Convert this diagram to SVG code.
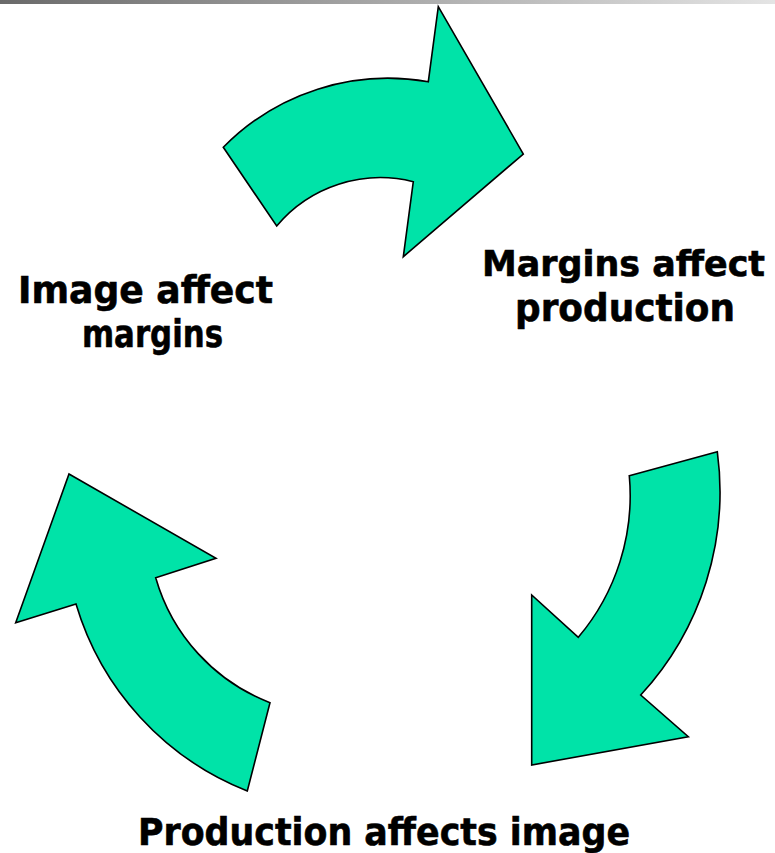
<svg xmlns="http://www.w3.org/2000/svg" width="775" height="853" viewBox="0 0 775 853">
  <defs>
    <linearGradient id="topbar" x1="0" y1="0" x2="1" y2="0">
      <stop offset="0" stop-color="#6a6a6a"/>
      <stop offset="0.5" stop-color="#a8a8a8"/>
      <stop offset="1" stop-color="#e4e4e4"/>
    </linearGradient>
  </defs>
  <style>
    .arrow { fill: #00E3A8; stroke: #000000; stroke-width: 1.6; stroke-linejoin: miter; }
    .label { font-family: "DejaVu Sans", Verdana, sans-serif; font-weight: bold; font-size: 37px; fill: #000000; stroke: #000000; stroke-width: 0.6; }
  </style>
  <rect x="0" y="0" width="775" height="4" fill="url(#topbar)"/>
  <g id="connectors">
    <path id="arrow-top" class="arrow" d="M 223.3,147.3 A 231 231 0 0 1 428.3,81.7 L 438.3,6.7 L 523.3,154 L 403.3,256.7 L 413.3,181.7 A 135.5 135.5 0 0 0 276.7,226 Z"/>
    <path id="arrow-right" class="arrow" d="M 629.3,475.7 L 717.3,451.7 A 300 300 0 0 1 640.7,695 L 688.3,736.7 L 531.7,765 L 531.7,595 L 578.3,637.3 A 219.6 219.6 0 0 0 629.3,475.7 Z"/>
    <path id="arrow-left" class="arrow" d="M 69,474 L 216,558.3 L 155.7,577.7 A 190 190 0 0 0 270,702.7 L 247.3,791 A 290 290 0 0 1 76,604 L 15.7,622.7 Z"/>
  </g>
  <g id="node-margins">
    <text class="label" x="482" y="276" textLength="283" lengthAdjust="spacingAndGlyphs" style="font-size:35px">Margins affect</text>
    <text class="label" x="515" y="321" textLength="220" lengthAdjust="spacingAndGlyphs">production</text>
  </g>
  <g id="node-image">
    <text class="label" x="18" y="303" textLength="255" lengthAdjust="spacingAndGlyphs">Image affect</text>
    <text class="label" x="82" y="347" textLength="141" lengthAdjust="spacingAndGlyphs">margins</text>
  </g>
  <g id="node-production">
    <text class="label" x="138" y="845" textLength="492" lengthAdjust="spacingAndGlyphs">Production affects image</text>
  </g>
</svg>
